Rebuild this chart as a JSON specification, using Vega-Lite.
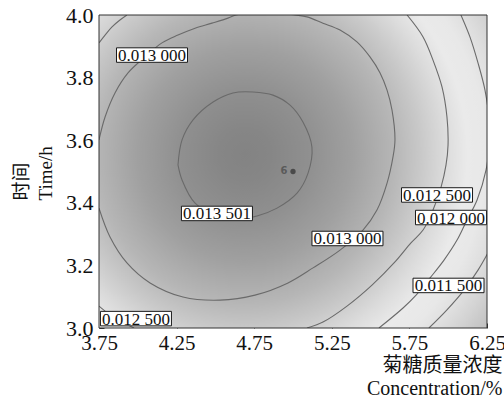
{
  "$schema": "https://vega.github.io/schema/vega-lite/v6.json",
  "width": 388,
  "height": 313,
  "autosize": "none",
  "padding": {"left": 99, "top": 15, "right": 17, "bottom": 72},
  "background": "white",
  "config": {
    "view": {"stroke": null},
    "axis": {"grid": false, "domain": false, "tickColor": "#333", "labelColor": "#111", "titleColor": "#111", "labelFont": "Liberation Serif", "titleFont": "Liberation Serif, Noto Sans CJK SC", "titleFontWeight": "normal", "zindex": 1}
  },
  "datasets": {
    "bg": [{"x0": 2.7577, "x1": 6.6237, "y0": 2.5958, "y1": 4.5127}],
    "frame": [{"x0": 3.75, "x1": 6.25, "y0": 3.0, "y1": 4.0}],
    "contours": [
      {"c": "A", "i": 1, "x": 3.75, "y": 3.911},
      {"c": "A", "i": 2, "x": 3.789, "y": 3.936},
      {"c": "A", "i": 3, "x": 3.834, "y": 3.962},
      {"c": "A", "i": 4, "x": 3.885, "y": 3.984},
      {"c": "A", "i": 5, "x": 3.93, "y": 4.0},
      {"c": "A2", "i": 1, "x": 3.75, "y": 3.07},
      {"c": "A2", "i": 2, "x": 3.821, "y": 3.042},
      {"c": "A2", "i": 3, "x": 3.898, "y": 3.019},
      {"c": "A2", "i": 4, "x": 3.976, "y": 3.0},
      {"c": "B", "i": 1, "x": 3.75, "y": 3.383},
      {"c": "B", "i": 2, "x": 3.821, "y": 3.291},
      {"c": "B", "i": 3, "x": 3.93, "y": 3.208},
      {"c": "B", "i": 4, "x": 4.079, "y": 3.144},
      {"c": "B", "i": 5, "x": 4.291, "y": 3.099},
      {"c": "B", "i": 6, "x": 4.53, "y": 3.089},
      {"c": "B", "i": 7, "x": 4.755, "y": 3.105},
      {"c": "B", "i": 8, "x": 4.968, "y": 3.144},
      {"c": "B", "i": 9, "x": 5.129, "y": 3.192},
      {"c": "B", "i": 10, "x": 5.303, "y": 3.249},
      {"c": "B", "i": 11, "x": 5.451, "y": 3.313},
      {"c": "B", "i": 12, "x": 5.541, "y": 3.377},
      {"c": "B", "i": 13, "x": 5.606, "y": 3.463},
      {"c": "B", "i": 14, "x": 5.644, "y": 3.546},
      {"c": "B", "i": 15, "x": 5.657, "y": 3.601},
      {"c": "B", "i": 16, "x": 5.638, "y": 3.696},
      {"c": "B", "i": 17, "x": 5.606, "y": 3.76},
      {"c": "B", "i": 18, "x": 5.561, "y": 3.815},
      {"c": "B", "i": 19, "x": 5.496, "y": 3.866},
      {"c": "B", "i": 20, "x": 5.412, "y": 3.914},
      {"c": "B", "i": 21, "x": 5.303, "y": 3.952},
      {"c": "B", "i": 22, "x": 5.193, "y": 3.974},
      {"c": "B", "i": 23, "x": 5.09, "y": 3.994},
      {"c": "B", "i": 24, "x": 5.013, "y": 4.0},
      {"c": "B", "i": 25, "x": 4.826, "y": 4.0096},
      {"c": "B", "i": 26, "x": 4.633, "y": 4.0},
      {"c": "B", "i": 27, "x": 4.581, "y": 3.99},
      {"c": "B", "i": 28, "x": 4.478, "y": 3.974},
      {"c": "B", "i": 29, "x": 4.369, "y": 3.958},
      {"c": "B", "i": 30, "x": 4.259, "y": 3.936},
      {"c": "B", "i": 31, "x": 4.156, "y": 3.911},
      {"c": "B", "i": 32, "x": 4.046, "y": 3.866},
      {"c": "B", "i": 33, "x": 3.937, "y": 3.815},
      {"c": "B", "i": 34, "x": 3.853, "y": 3.751},
      {"c": "B", "i": 35, "x": 3.789, "y": 3.674},
      {"c": "B", "i": 36, "x": 3.75, "y": 3.601},
      {"c": "C", "i": 1, "x": 4.259, "y": 3.521},
      {"c": "C", "i": 2, "x": 4.285, "y": 3.473},
      {"c": "C", "i": 3, "x": 4.369, "y": 3.399},
      {"c": "C", "i": 4, "x": 4.497, "y": 3.361},
      {"c": "C", "i": 5, "x": 4.626, "y": 3.348},
      {"c": "C", "i": 6, "x": 4.768, "y": 3.358},
      {"c": "C", "i": 7, "x": 4.897, "y": 3.383},
      {"c": "C", "i": 8, "x": 5.026, "y": 3.431},
      {"c": "C", "i": 9, "x": 5.097, "y": 3.495},
      {"c": "C", "i": 10, "x": 5.122, "y": 3.578},
      {"c": "C", "i": 11, "x": 5.064, "y": 3.658},
      {"c": "C", "i": 12, "x": 4.981, "y": 3.712},
      {"c": "C", "i": 13, "x": 4.871, "y": 3.744},
      {"c": "C", "i": 14, "x": 4.742, "y": 3.754},
      {"c": "C", "i": 15, "x": 4.613, "y": 3.751},
      {"c": "C", "i": 16, "x": 4.485, "y": 3.722},
      {"c": "C", "i": 17, "x": 4.356, "y": 3.665},
      {"c": "C", "i": 18, "x": 4.285, "y": 3.601},
      {"c": "C", "i": 19, "x": 4.259, "y": 3.521},
      {"c": "D", "i": 1, "x": 5.735, "y": 4.0},
      {"c": "D", "i": 2, "x": 5.838, "y": 3.93},
      {"c": "D", "i": 3, "x": 5.902, "y": 3.856},
      {"c": "D", "i": 4, "x": 5.96, "y": 3.77},
      {"c": "D", "i": 5, "x": 5.992, "y": 3.674},
      {"c": "D", "i": 6, "x": 5.999, "y": 3.585},
      {"c": "D", "i": 7, "x": 5.986, "y": 3.521},
      {"c": "D", "i": 8, "x": 5.954, "y": 3.45},
      {"c": "D", "i": 9, "x": 5.902, "y": 3.377},
      {"c": "D", "i": 10, "x": 5.838, "y": 3.313},
      {"c": "D", "i": 11, "x": 5.76, "y": 3.272},
      {"c": "D", "i": 12, "x": 5.657, "y": 3.211},
      {"c": "D", "i": 13, "x": 5.509, "y": 3.137},
      {"c": "D", "i": 14, "x": 5.348, "y": 3.07},
      {"c": "D", "i": 15, "x": 5.193, "y": 3.019},
      {"c": "D", "i": 16, "x": 5.09, "y": 3.0},
      {"c": "E", "i": 1, "x": 6.082, "y": 4.0},
      {"c": "E", "i": 2, "x": 6.14, "y": 3.93},
      {"c": "E", "i": 3, "x": 6.192, "y": 3.847},
      {"c": "E", "i": 4, "x": 6.237, "y": 3.76},
      {"c": "E", "i": 5, "x": 6.263, "y": 3.665},
      {"c": "E", "i": 6, "x": 6.263, "y": 3.585},
      {"c": "E", "i": 7, "x": 6.244, "y": 3.505},
      {"c": "E", "i": 8, "x": 6.186, "y": 3.409},
      {"c": "E", "i": 9, "x": 6.115, "y": 3.339},
      {"c": "E", "i": 10, "x": 6.057, "y": 3.281},
      {"c": "E", "i": 11, "x": 5.973, "y": 3.217},
      {"c": "E", "i": 12, "x": 5.883, "y": 3.16},
      {"c": "E", "i": 13, "x": 5.793, "y": 3.105},
      {"c": "E", "i": 14, "x": 5.709, "y": 3.064},
      {"c": "E", "i": 15, "x": 5.554, "y": 3.0},
      {"c": "F", "i": 1, "x": 6.256, "y": 3.24},
      {"c": "F", "i": 2, "x": 6.192, "y": 3.185},
      {"c": "F", "i": 3, "x": 6.102, "y": 3.121},
      {"c": "F", "i": 4, "x": 5.992, "y": 3.058},
      {"c": "F", "i": 5, "x": 5.876, "y": 3.0}
    ],
    "labels": [
      {"x": 4.0915, "y": 3.872, "t": "0.013 000"},
      {"x": 4.51, "y": 3.366, "t": "0.013 501"},
      {"x": 5.351, "y": 3.286, "t": "0.013 000"},
      {"x": 5.928, "y": 3.425, "t": "0.012 500"},
      {"x": 6.018, "y": 3.353, "t": "0.012 000"},
      {"x": 6.002, "y": 3.136, "t": "0.011 500"},
      {"x": 3.988, "y": 3.03, "t": "0.012 500"}
    ],
    "points": [{"x": 5.0, "y": 3.5, "t": "6"}]
  },
  "layer": [
    {
      "data": {"name": "bg"},
      "mark": {
        "type": "rect",
        "clip": true,
        "fill": {
          "gradient": "radial",
          "x1": 0.5, "y1": 0.5, "r1": 0,
          "x2": 0.5, "y2": 0.5, "r2": 0.56,
          "stops": [
            {"offset": 0, "color": "#838383"},
            {"offset": 0.077, "color": "#868686"},
            {"offset": 0.196, "color": "#909090"},
            {"offset": 0.318, "color": "#a0a0a0"},
            {"offset": 0.443, "color": "#b6b6b6"},
            {"offset": 0.524, "color": "#c9c9c9"},
            {"offset": 0.598, "color": "#dcdcdc"},
            {"offset": 0.661, "color": "#eaeaea"},
            {"offset": 0.717, "color": "#e8e8e8"},
            {"offset": 0.771, "color": "#dedede"},
            {"offset": 0.821, "color": "#d2d2d2"},
            {"offset": 0.893, "color": "#bebebe"},
            {"offset": 0.964, "color": "#aaaaaa"},
            {"offset": 1, "color": "#a2a2a2"}
          ]
        },
        "strokeWidth": 0
      },
      "encoding": {
        "x": {"field": "x0", "type": "quantitative", "scale": {"domain": [3.75, 6.25], "nice": false, "zero": false},
          "axis": {"values": [3.75, 4.25, 4.75, 5.25, 5.75, 6.25], "format": ".2f", "tickSize": -5, "labelPadding": 9, "labelFontSize": 21, "labelFlush": false,
            "title": ["菊糖质量浓度", "Concentration/%"], "titleFontSize": 20, "titleAnchor": "end", "titleAlign": "right", "titleBaseline": "top", "titleX": 403, "titleY": 27, "titleLineHeight": 23,
            "encode": {"labels": {"update": {"dx": {"signal": "datum.value < 3.8 ? 8 : datum.value > 6.2 ? -5 : 2"}}}}}},
        "x2": {"field": "x1"},
        "y": {"field": "y0", "type": "quantitative", "scale": {"domain": [3.0, 4.0], "nice": false, "zero": false},
          "axis": {"values": [3.0, 3.2, 3.4, 3.6, 3.8, 4.0], "format": ".1f", "tickSize": -5, "labelPadding": 11, "labelFontSize": 22,
            "title": ["时间", "Time/h"], "titleFontSize": 19, "titleAngle": 270, "titleAlign": "left", "titleBaseline": "top", "titleX": -87, "titleY": 185, "titleLineHeight": 24}},
        "y2": {"field": "y1"}
      }
    },
    {
      "data": {"name": "contours"},
      "mark": {"type": "line", "clip": true, "interpolate": "catmull-rom", "color": "#6a6a6a", "strokeWidth": 1.1},
      "encoding": {
        "x": {"field": "x", "type": "quantitative"},
        "y": {"field": "y", "type": "quantitative"},
        "detail": {"field": "c"},
        "order": {"field": "i", "type": "quantitative"}
      }
    },
    {
      "data": {"name": "points"},
      "mark": {"type": "point", "filled": true, "color": "#4a4a4a", "size": 28, "opacity": 1},
      "encoding": {
        "x": {"field": "x", "type": "quantitative"},
        "y": {"field": "y", "type": "quantitative"}
      }
    },
    {
      "data": {"name": "points"},
      "mark": {"type": "text", "font": "DejaVu Sans", "fontSize": 10, "fontWeight": "bold", "color": "#5a5a5a", "dx": -9, "dy": -1, "baseline": "middle", "align": "center"},
      "encoding": {
        "x": {"field": "x", "type": "quantitative"},
        "y": {"field": "y", "type": "quantitative"},
        "text": {"field": "t"}
      }
    },
    {
      "data": {"name": "labels"},
      "mark": {"type": "point", "shape": "M-1,-0.204L1,-0.204L1,0.204L-1,0.204Z", "size": 5041, "filled": true, "fill": "white", "stroke": "#1a1a1a", "strokeWidth": 1, "opacity": 1},
      "encoding": {
        "x": {"field": "x", "type": "quantitative"},
        "y": {"field": "y", "type": "quantitative"}
      }
    },
    {
      "data": {"name": "labels"},
      "mark": {"type": "text", "font": "Liberation Serif", "fontSize": 17, "color": "#111", "baseline": "middle", "align": "center", "dy": 1},
      "encoding": {
        "x": {"field": "x", "type": "quantitative"},
        "y": {"field": "y", "type": "quantitative"},
        "text": {"field": "t"}
      }
    },
    {
      "data": {"name": "frame"},
      "mark": {"type": "rect", "filled": false, "color": "#333", "strokeWidth": 1},
      "encoding": {
        "x": {"field": "x0", "type": "quantitative"},
        "x2": {"field": "x1"},
        "y": {"field": "y0", "type": "quantitative"},
        "y2": {"field": "y1"}
      }
    }
  ]
}
